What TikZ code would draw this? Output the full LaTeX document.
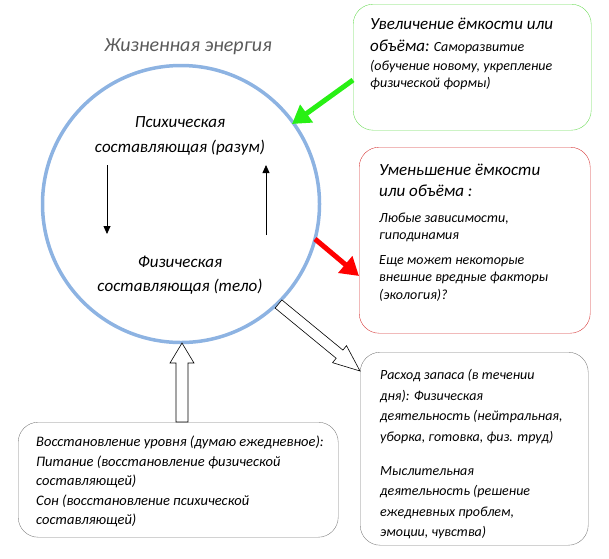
\documentclass[tikz,border=0pt]{standalone}
\usepackage{fontspec}
\setmainfont{Carlito}[ItalicFont={Carlito Italic}]
\usetikzlibrary{arrows.meta,calc}
\definecolor{circblue}{RGB}{141,179,226}
\definecolor{boxgreen}{RGB}{110,220,90}
\definecolor{arrgreen}{RGB}{40,240,20}
\definecolor{boxred}{RGB}{215,60,60}
\definecolor{boxgray}{RGB}{128,128,128}
\definecolor{titlegray}{RGB}{90,90,90}
\tikzset{
  txt/.style={inner sep=0pt, align=left, anchor=north west},
  ctxt/.style={inner sep=0pt, align=center, font=\itshape\fontsize{17}{25}\selectfont},
  rbox/.style={draw, rounded corners=20pt, anchor=north west, inner sep=0pt},
  thin arrow/.style={-{Triangle[length=8pt,width=7pt]}, line width=0.8pt},
  hollow/.style={draw=black, fill=white, line width=0.6pt, line join=miter},
  big/.style={font=\itshape\fontsize{17}{22}\selectfont},
}
\newcommand{\hd}[1]{{\fontsize{17}{22}\selectfont #1}}
\begin{document}
\begin{tikzpicture}[x=1pt,y=-1pt]
\useasboundingbox (0,0) rectangle (609,558);
% main circle
\node[circle, draw=circblue, line width=3.5pt, minimum size=277pt, inner sep=0pt] (c) at (181,204) {};
\node[font=\itshape\fontsize{20}{22}\selectfont, text=titlegray, inner sep=0pt] (title) at (188,47) {Жизненная энергия};
\node[ctxt] (psy) at (180,135.5) {Психическая\\составляющая (разум)};
\node[ctxt] (phy) at (180,275) {Физическая\\[-1pt]составляющая (тело)};
\coordinate (d1) at (107,165); \coordinate (d2) at (107,234);
\coordinate (u1) at (266,235); \coordinate (u2) at (266,165);
\draw[thin arrow] (d1) -- (d2);
\draw[thin arrow] (u1) -- (u2);
% green box
\node[rbox, draw=boxgreen, minimum width=238pt, minimum height=126pt] (gbox) at (353,4) {};
\node[txt, font=\itshape\fontsize{14}{18}\selectfont] (gtext) at (370,18) {\hd{Увеличение ёмкости или}\\[4pt]
\hd{объёма:} Саморазвитие\\[1pt]
(обучение новому, укрепление\\[-1pt]
физической формы)};
\coordinate (gt) at (353,80); \coordinate (gh) at (292,124);
\draw[arrgreen, line width=5pt, -{Triangle[length=18pt,width=21pt]}] (gt) -- (gh);
% red box
\node[rbox, draw=boxred, minimum width=231pt, minimum height=186pt] (rbox) at (359,147) {};
\node[txt, font=\itshape\fontsize{14}{17.5}\selectfont] (rtext) at (379,164) {\hd{Уменьшение ёмкости}\\[3.5pt]
\hd{или объёма :}\\[8.5pt]
Любые зависимости,\\[-0.5pt]
гиподинамия\\[7.5pt]
Еще может некоторые\\[-0.5pt]
внешние вредные факторы\\[0.5pt]
(экология)?};
\coordinate (rt) at (315,239); \coordinate (rh) at (359,276);
\draw[red, line width=5pt, -{Triangle[length=18pt,width=21pt]}] (rt) -- (rh);
% gray box right
\node[rbox, draw=boxgray, minimum width=228pt, minimum height=193pt] (gray) at (360,352) {};
\node[txt, font=\itshape\fontsize{14}{20.5}\selectfont] (graytext) at (380,369.5) {Расход запаса (в течении\\
дня): Физическая\\
деятельность (нейтральная,\\
уборка, готовка, физ. труд)\\[13.5pt]
Мыслительная\\
деятельность (решение\\
ежедневных проблем,\\
эмоции, чувства)};
% bottom left box
\node[rbox, draw=boxgray, minimum width=320pt, minimum height=115pt] (lbox) at (18,422) {};
\node[txt, font=\itshape\fontsize{14.5}{19.5}\selectfont] (ltext) at (36,436) {Восстановление уровня (думаю ежедневное):\\
Питание (восстановление физической\\
составляющей)\\
Сон (восстановление психической\\
составляющей)};
% hollow up arrow
\coordinate (ua) at (182,422); \coordinate (ub) at (182,343);
\draw[hollow] ($(ua)+(-6,0)$) -- ($(ua)+(6,0)$) -- ($(ub)+(6,20)$) -- ($(ub)+(12,20)$) -- (ub) -- ($(ub)+(-12,20)$) -- ($(ub)+(-6,20)$) -- cycle;
% hollow diagonal arrow
\coordinate (da) at (278.5,304); \coordinate (db) at (360,371);
\begin{scope}[shift={(da)}, rotate={-atan2(67,81.5)}]
\draw[hollow] (0,-5.3) -- (0,5.3) -- (79,5.3) -- (79,11) -- (105.5,0) -- (79,-11) -- (79,-5.3) -- cycle;
\end{scope}
\end{tikzpicture}
\end{document}
